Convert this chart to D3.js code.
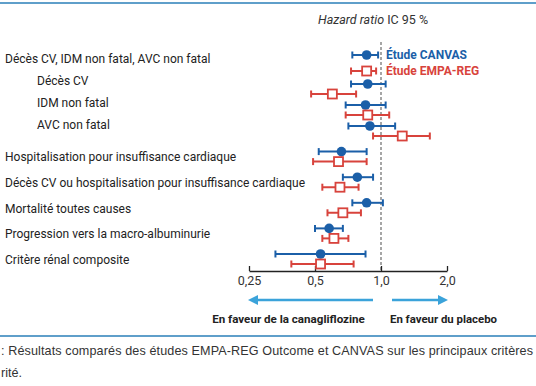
<!DOCTYPE html>
<html>
<head>
<meta charset="utf-8">
<script src="https://cdn.jsdelivr.net/npm/d3@7"></script>
<style>
  body { margin: 0; background: #fff; }
  svg { display: block; font-family: Roboto, "Noto Sans", sans-serif; }
</style>
</head>
<body>
<div id="viz"></div>
<script>
// outcomes (indent = sub-components of the composite)
var outcomes = [
  'Décès CV, IDM non fatal, AVC non fatal',
  'Décès CV',
  'IDM non fatal',
  'AVC non fatal',
  'Hospitalisation pour insuffisance cardiaque',
  'Décès CV ou hospitalisation pour insuffisance cardiaque',
  'Mortalité toutes causes',
  'Progression vers la macro-albuminurie',
  'Critère rénal composite'
];
var indented = [false, true, true, true, false, false, false, false, false];

// hazard ratios
var canvasHR   = [0.86, 0.87, 0.85, 0.89, 0.66, 0.78, 0.86, 0.58, 0.53];
var canvasLow  = [0.74, 0.73, 0.69, 0.71, 0.52, 0.67, 0.74, 0.50, 0.33];
var canvasHigh = [0.97, 1.05, 1.05, 1.16, 0.86, 0.92, 1.02, 0.67, 0.85];

var empaHR   = [0.86, 0.60, 0.87, 1.25, 0.64, 0.65, 0.67, 0.61, 0.53];
var empaLow  = [0.73, 0.48, 0.69, 0.92, 0.49, 0.54, 0.57, 0.54, 0.39];
var empaHigh = [0.95, 0.77, 1.09, 1.67, 0.86, 0.79, 0.81, 0.71, 0.75];

var tickValues = [0.25, 0.5, 1, 2];
var tickLabels = ['0,25', '0,5', '1,0', '2,0'];

var width = 536, height = 386;
var blue = '#1b5fa8', red = '#d8433c', arrowBlue = '#3ba3da', rule = '#5f9fca';

var svg = d3.select('#viz').append('svg')
  .attr('width', width)
  .attr('height', height);

var x = d3.scaleLog().base(2)
  .domain([0.25, 2])
  .range([249, 447]);

// marker rows: first four a little tighter than the rest
var y = d3.scaleLinear()
  .domain([0, 1, 3, 8])
  .range([63, 89, 131, 259]);

// label rows don't sit exactly on the markers in the original
var yLabel = d3.scaleLinear()
  .domain([0, 3, 4, 8])
  .range([59, 125, 157, 260]);

var axisY = 271;

// top / bottom rules
svg.append('line').attr('x1', 0).attr('x2', width).attr('y1', 3).attr('y2', 3)
  .style('stroke', rule).style('stroke-width', 2);
svg.append('line').attr('x1', 0).attr('x2', width).attr('y1', 336).attr('y2', 336)
  .style('stroke', rule).style('stroke-width', 2);

// title
var t = svg.append('text').attr('x', 318).attr('y', 24)
  .style('font-size', '12.5px').style('fill', '#333');
t.append('tspan').style('font-style', 'italic').text('Hazard ratio');
t.append('tspan').text(' IC 95 %');

// reference line at 1
svg.append('line')
  .attr('x1', x(1)).attr('x2', x(1))
  .attr('y1', 42).attr('y2', axisY)
  .style('stroke', '#777').style('stroke-width', 1.3)
  .style('stroke-dasharray', '3,2');

// axis
var axis = svg.append('g')
  .attr('transform', 'translate(0,' + axisY + ')')
  .call(d3.axisBottom(x).tickValues(tickValues)
    .tickFormat(function(d, i) { return tickLabels[i]; })
    .tickSizeInner(-5).tickSizeOuter(0).tickPadding(5));
axis.select('.domain').style('stroke', '#222').style('stroke-width', 1.3);
axis.selectAll('.tick line').style('stroke', '#222').style('stroke-width', 1.3);
axis.selectAll('.tick text').style('font-size', '12.5px').style('fill', '#333')
  .style('font-family', 'Roboto, sans-serif');

// row labels
svg.selectAll('.label').data(outcomes)
  .enter().append('text')
    .attr('class', 'label')
    .attr('x', function(d, i) { return indented[i] ? 37 : 5; })
    .attr('y', function(d, i) { return yLabel(i); })
    .attr('dy', '0.35em')
    .style('font-size', '12px')
    .style('fill', '#222')
    .text(function(d) { return d; });

function offset(i) { return i === 0 ? 8 : 5; }

function drawSeries(hr, lo, hi, color, dir, marker) {
  var g = svg.append('g');
  var rows = g.selectAll('g').data(hr).enter().append('g')
    .attr('transform', function(d, i) { return 'translate(0,' + (y(i) + dir * offset(i)) + ')'; });

  rows.append('line')
    .attr('x1', function(d, i) { return x(lo[i]); })
    .attr('x2', function(d, i) { return x(hi[i]); })
    .style('stroke', color).style('stroke-width', 2);
  rows.append('line')
    .attr('x1', function(d, i) { return x(lo[i]); })
    .attr('x2', function(d, i) { return x(lo[i]); })
    .attr('y1', -3.5).attr('y2', 3.5)
    .style('stroke', color).style('stroke-width', 2);
  rows.append('line')
    .attr('x1', function(d, i) { return x(hi[i]); })
    .attr('x2', function(d, i) { return x(hi[i]); })
    .attr('y1', -3.5).attr('y2', 3.5)
    .style('stroke', color).style('stroke-width', 2);

  if (marker === 'circle') {
    rows.append('circle')
      .attr('cx', function(d) { return x(d); })
      .attr('r', 4.8)
      .style('fill', color);
  } else {
    rows.append('rect')
      .attr('x', function(d) { return x(d) - 4.5; })
      .attr('y', -4.5)
      .attr('width', 9).attr('height', 9)
      .style('fill', '#fff').style('stroke', color).style('stroke-width', 1.8);
  }
}

drawSeries(canvasHR, canvasLow, canvasHigh, blue, -1, 'circle');
drawSeries(empaHR, empaLow, empaHigh, red, 1, 'square');

// legend
svg.append('text').attr('x', 386).attr('y', y(0) - 8).attr('dy', '0.35em')
  .style('font-size', '12px').style('font-weight', 'bold').style('fill', blue)
  .text('Étude CANVAS');
svg.append('text').attr('x', 386).attr('y', y(0) + 8).attr('dy', '0.35em')
  .style('font-size', '12px').style('font-weight', 'bold').style('fill', red)
  .text('Étude EMPA-REG');

// direction arrows
svg.append('defs').append('marker')
  .attr('id', 'head').attr('viewBox', '0 0 10 10')
  .attr('refX', 2).attr('refY', 5)
  .attr('markerWidth', 4).attr('markerHeight', 4)
  .attr('orient', 'auto-start-reverse')
  .append('path').attr('d', 'M0,0L10,5L0,10Z').style('fill', arrowBlue);

svg.append('line').attr('x1', 373).attr('x2', 256).attr('y1', 300).attr('y2', 300)
  .style('stroke', arrowBlue).style('stroke-width', 2.5).attr('marker-end', 'url(#head)');
svg.append('line').attr('x1', 392).attr('x2', 440).attr('y1', 300).attr('y2', 300)
  .style('stroke', arrowBlue).style('stroke-width', 2.5).attr('marker-end', 'url(#head)');

svg.append('text').attr('x', 288.5).attr('y', 319).attr('dy', '0.35em')
  .attr('text-anchor', 'middle')
  .style('font-size', '11.6px').style('font-weight', 'bold').style('fill', '#222')
  .text('En faveur de la canagliflozine');
svg.append('text').attr('x', 443.5).attr('y', 319).attr('dy', '0.35em')
  .attr('text-anchor', 'middle')
  .style('font-size', '11.4px').style('font-weight', 'bold').style('fill', '#222')
  .text('En faveur du placebo');

// caption
svg.append('text').attr('x', 1).attr('y', 355)
  .attr('textLength', 532).attr('lengthAdjust', 'spacing')
  .style('font-family', '"Liberation Sans", Arial, sans-serif')
  .style('font-size', '12.6px').style('fill', '#333')
  .text(': Résultats comparés des études EMPA-REG Outcome et CANVAS sur les principaux critères');
svg.append('text').attr('x', 1).attr('y', 377)
  .style('font-family', '"Liberation Sans", Arial, sans-serif')
  .style('font-size', '12.6px').style('fill', '#333')
  .text('rité.');
</script>
</body>
</html>
